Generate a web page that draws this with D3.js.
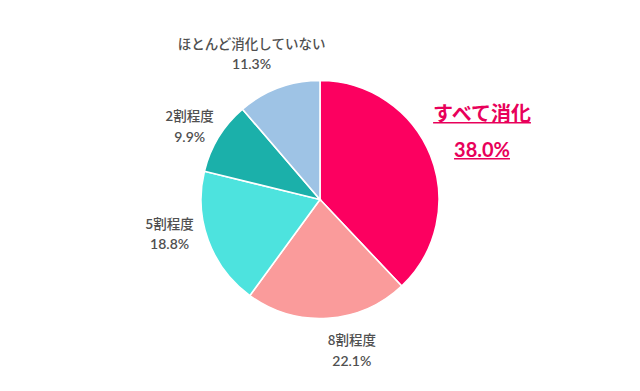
<!DOCTYPE html>
<html>
<head>
<meta charset="utf-8">
<script src="https://cdn.jsdelivr.net/npm/d3@7"></script>
<style>
  body { margin: 0; background: #fff; }
  svg { display: block; }
</style>
</head>
<body>
<svg id="chart" width="640" height="391"></svg>
<script>
// data
const categories = ["すべて消化", "8割程度", "5割程度", "2割程度", "ほとんど消化していない"];
const values = [38.0, 22.1, 18.8, 9.9, 11.3];
const valueLabels = ["38.0%", "22.1%", "18.8%", "9.9%", "11.3%"];
const colors = ["#fc0060", "#fa9b9b", "#4de3de", "#1bb0aa", "#9ec3e5"];

let width = 640;
let height = 391;
let cx = 320, cy = 199.5, radius = 119;

// label placement around pie (angle in deg from 12 o'clock, radius)
let labelRadius = [176, 153, 154, 150, 162];
let labelAngle = [67, 168, 257.6, 299.7, 335];

let svg = d3.select("#chart");
let g = svg.append("g").attr("transform", `translate(${cx},${cy})`);

let pie = d3.pie().sort(null).value(d => d.value);
let data = categories.map((c, i) => ({name: c, value: values[i], label: valueLabels[i], color: colors[i]}));
let arcs = pie(data);

let arc = d3.arc().innerRadius(0).outerRadius(radius);

g.selectAll("path").data(arcs).enter().append("path")
    .attr("d", arc)
    .attr("fill", d => d.data.color)
    .attr("stroke", "#fff")
    .attr("stroke-width", 1.6);

arcs.forEach((d, i) => {
    let a = labelAngle[i] * Math.PI / 180;
    let r = labelRadius[i];
    let x = r * Math.sin(a);
    let y = -r * Math.cos(a);
    let lab = g.append("g").attr("transform", `translate(${x},${y})`);
    if (i === 0) {
        let t1 = lab.append("text")
            .attr("x", 0).attr("y", -18)
            .attr("text-anchor", "middle").attr("dominant-baseline", "central")
            .attr("font-family", "'Noto Sans CJK JP', 'Noto Sans', sans-serif")
            .attr("font-size", 20).attr("font-weight", 700)
            .attr("fill", "#e8005a")
            .text(d.data.name);
        let t2 = lab.append("text")
            .attr("x", 0).attr("y", 18)
            .attr("text-anchor", "middle").attr("dominant-baseline", "central")
            .attr("font-family", "Lato, 'Noto Sans', sans-serif")
            .attr("font-size", 20).attr("font-weight", 700)
            .attr("fill", "#e8005a")
            .text(d.data.label);
        [[t1, -18], [t2, 18]].forEach(([t, yy]) => {
            let w = t.node().getComputedTextLength();
            lab.append("line")
                .attr("x1", -w / 2).attr("x2", w / 2)
                .attr("y1", yy + 10).attr("y2", yy + 10)
                .attr("stroke", "#e8005a").attr("stroke-width", 1.6);
        });
    } else {
        lab.append("text")
            .attr("x", 0).attr("y", -10)
            .attr("text-anchor", "middle").attr("dominant-baseline", "central")
            .attr("font-family", "'Noto Sans CJK JP', 'Noto Sans', sans-serif")
            .attr("font-size", 13.5).attr("font-weight", 500)
            .attr("fill", "#505050")
            .text(d.data.name);
        lab.append("text")
            .attr("x", 0).attr("y", 11)
            .attr("text-anchor", "middle").attr("dominant-baseline", "central")
            .attr("font-family", "Lato, 'Noto Sans', sans-serif")
            .attr("font-size", 14).attr("font-weight", 600)
            .attr("fill", "#505050")
            .text(d.data.label);
    }
});
</script>
</body>
</html>
